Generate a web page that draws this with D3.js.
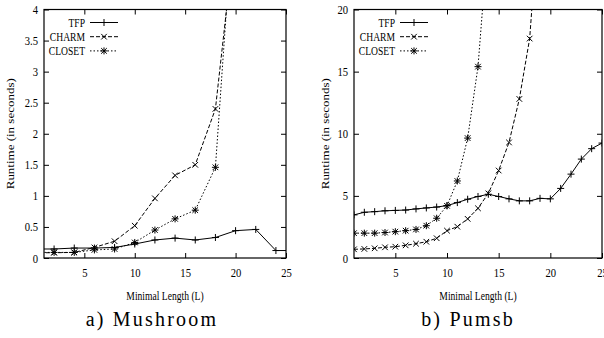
<!DOCTYPE html>
<html>
  <head>
    <meta charset="UTF-8" />
    <title>Runtime vs Minimal Length</title>
    <script src="https://d3js.org/d3.v7.min.js"></script>
    <style>
      body { margin: 0; background: #fff; }
    </style>
  </head>
  <body>
    <div id="chart"></div>

    <script>
      // ---- data ----
      // Mushroom
      const mushTfpX = [0, 2, 4, 6, 8, 10, 12, 14, 16, 18, 20, 22, 24, 26];
      const mushTfp = [0.145, 0.145, 0.16, 0.16, 0.17, 0.225, 0.29, 0.32, 0.29, 0.33, 0.44, 0.46, 0.12, 0.12];
      const mushCharmX = [0, 2, 4, 6, 8, 10, 12, 14, 16, 18, 20];
      const mushCharm = [0.085, 0.085, 0.09, 0.17, 0.27, 0.52, 0.96, 1.33, 1.5, 2.4, 5.3];
      const mushClosetX = [0, 2, 4, 6, 8, 10, 12, 14, 16, 18, 20];
      const mushCloset = [0.09, 0.09, 0.09, 0.13, 0.145, 0.25, 0.45, 0.63, 0.77, 1.46, 6.1];

      // Pumsb
      const pumsbTfpX = d3.range(1, 26);
      const pumsbTfp = [3.47, 3.68, 3.73, 3.8, 3.83, 3.86, 3.95, 4.03, 4.1, 4.22, 4.46, 4.73, 4.95, 5.13,
        4.95, 4.76, 4.6, 4.6, 4.8, 4.76, 5.6, 6.75, 7.96, 8.8, 9.25];
      const pumsbCharmX = d3.range(1, 20);
      const pumsbCharm = [0.7, 0.73, 0.78, 0.86, 0.91, 1.02, 1.15, 1.31, 1.59, 2.2, 2.52, 3.15, 4.0, 5.2,
        7.04, 9.3, 12.8, 17.66, 29];
      const pumsbClosetX = d3.range(1, 15);
      const pumsbCloset = [2.0, 2.0, 2.0, 2.05, 2.12, 2.2, 2.3, 2.6, 3.2, 4.2, 6.2, 9.65, 15.4, 26];

      const seriesNames = ["TFP", "CHARM", "CLOSET"];
      const xTicks = [5, 10, 15, 20, 25];
      const mushYTicks = [0, 0.5, 1, 1.5, 2, 2.5, 3, 3.5, 4];
      const pumsbYTicks = [0, 5, 10, 15, 20];
      const xTitle = "Minimal Length (L)";
      const yTitle = "Runtime (in seconds)";
      const captions = ["a) Mushroom", "b) Pumsb"];

      // ---- drawing ----
      const width = 604, height = 338;
      const svg = d3.select("#chart").append("svg")
        .attr("width", width).attr("height", height);

      const styles = {
        TFP: { dash: null, marker: "plus" },
        CHARM: { dash: "4,2", marker: "cross" },
        CLOSET: { dash: "1.5,2", marker: "star" }
      };

      function markerPath(kind, cx, cy) {
        const s = 3.5, c = 2.8;
        const plus = `M${cx - s},${cy}H${cx + s}M${cx},${cy - s}V${cy + s}`;
        const cross = `M${cx - c},${cy - c}L${cx + c},${cy + c}M${cx - c},${cy + c}L${cx + c},${cy - c}`;
        if (kind === "plus") return plus;
        if (kind === "cross") return cross;
        return plus + cross;
      }

      function panel(id, box, yMax, yTicks, series, caption) {
        const x = d3.scaleLinear().domain([1, 25]).range([box.left, box.right]);
        const y = d3.scaleLinear().domain([0, yMax]).range([box.bottom, box.top]);
        const g = svg.append("g");

        g.append("clipPath").attr("id", "clip" + id)
          .append("rect")
          .attr("x", box.left).attr("y", box.top)
          .attr("width", box.right - box.left).attr("height", box.bottom - box.top);

        // ticks on all four sides, pointing inward
        const left = g.append("g").attr("transform", `translate(${box.left},0)`)
          .call(d3.axisLeft(y).tickValues(yTicks).tickSize(-5).tickPadding(7).tickFormat(d3.format("")));
        left.selectAll("text")
          .attr("font-family", "Liberation Serif").attr("font-size", 12.5)
          .attr("transform", "scale(0.85,1)");
        g.append("g").attr("transform", `translate(${box.right},0)`)
          .call(d3.axisRight(y).tickValues(yTicks).tickSize(-5).tickFormat(""));
        const bottom = g.append("g").attr("transform", `translate(0,${box.bottom})`)
          .call(d3.axisBottom(x).tickValues(xTicks).tickSize(-5).tickPadding(8));
        bottom.selectAll("text")
          .attr("font-family", "Liberation Serif").attr("font-size", 12.5)
          .attr("dy", "0.9em")
          .attr("transform", "scale(0.85,1)");
        g.append("g").attr("transform", `translate(0,${box.top})`)
          .call(d3.axisTop(x).tickValues(xTicks).tickSize(-5).tickFormat(""));
        g.selectAll(".domain").remove();
        g.selectAll(".tick line").attr("stroke", "#000").attr("stroke-width", 1);

        // data
        const plot = g.append("g").attr("clip-path", `url(#clip${id})`);
        const line = d3.line().x((d) => x(d[0])).y((d) => y(d[1]));
        series.forEach((s) => {
          const pts = s.xs.map((v, i) => [v, s.ys[i]]);
          const st = styles[s.name];
          plot.append("path").datum(pts)
            .attr("d", line)
            .attr("fill", "none").attr("stroke", "#000").attr("stroke-width", 1)
            .attr("stroke-dasharray", st.dash);
          plot.append("path")
            .attr("d", pts.map((p) => markerPath(st.marker, x(p[0]), y(p[1]))).join(""))
            .attr("fill", "none").attr("stroke", "#000").attr("stroke-width", 1);
        });

        // frame
        g.append("rect")
          .attr("x", box.left).attr("y", box.top)
          .attr("width", box.right - box.left).attr("height", box.bottom - box.top)
          .attr("fill", "none").attr("stroke", "#000").attr("stroke-width", 1.2);

        // legend
        seriesNames.forEach((name, i) => {
          const ly = box.top + 13 + i * 14.2;
          const st = styles[name];
          g.append("text")
            .attr("transform", `translate(${box.left + 41},${ly + 4}) scale(0.8,1)`)
            .attr("text-anchor", "end")
            .attr("font-family", "Liberation Serif").attr("font-size", 12)
            .text(name);
          g.append("path")
            .attr("d", `M${box.left + 46},${ly}H${box.left + 74}`)
            .attr("stroke", "#000").attr("stroke-width", 1)
            .attr("stroke-dasharray", st.dash);
          g.append("path")
            .attr("d", markerPath(st.marker, box.left + 60, ly))
            .attr("fill", "none").attr("stroke", "#000").attr("stroke-width", 1);
        });

        // axis titles
        g.append("text")
          .attr("transform", `translate(${(box.left + box.right) / 2},300) scale(0.8,1)`)
          .attr("text-anchor", "middle")
          .attr("font-family", "Liberation Serif").attr("font-size", 12)
          .text(xTitle);
        g.append("text")
          .attr("transform", `translate(${box.ytitle},${(box.top + box.bottom) / 2}) rotate(-90) scale(1,0.85)`)
          .attr("text-anchor", "middle")
          .attr("font-family", "Liberation Serif").attr("font-size", 13)
          .text(yTitle);

        // caption, plain serif with a little letter spacing
        g.append("text")
          .attr("x", box.capX).attr("y", 326)
          .attr("text-anchor", "middle")
          .attr("font-family", "Liberation Serif").attr("font-size", 20)
          .attr("letter-spacing", 2.2)
          .text(caption);
      }

      panel("a", { left: 44, right: 286, top: 9.5, bottom: 258, ytitle: 14, capX: 152 },
        4, mushYTicks,
        [
          { name: "TFP", xs: mushTfpX, ys: mushTfp },
          { name: "CHARM", xs: mushCharmX, ys: mushCharm },
          { name: "CLOSET", xs: mushClosetX, ys: mushCloset }
        ], captions[0]);

      panel("b", { left: 354, right: 602, top: 9.5, bottom: 258, ytitle: 329, capX: 468 },
        20, pumsbYTicks,
        [
          { name: "TFP", xs: pumsbTfpX, ys: pumsbTfp },
          { name: "CHARM", xs: pumsbCharmX, ys: pumsbCharm },
          { name: "CLOSET", xs: pumsbClosetX, ys: pumsbCloset }
        ], captions[1]);
    </script>
  </body>
</html>
